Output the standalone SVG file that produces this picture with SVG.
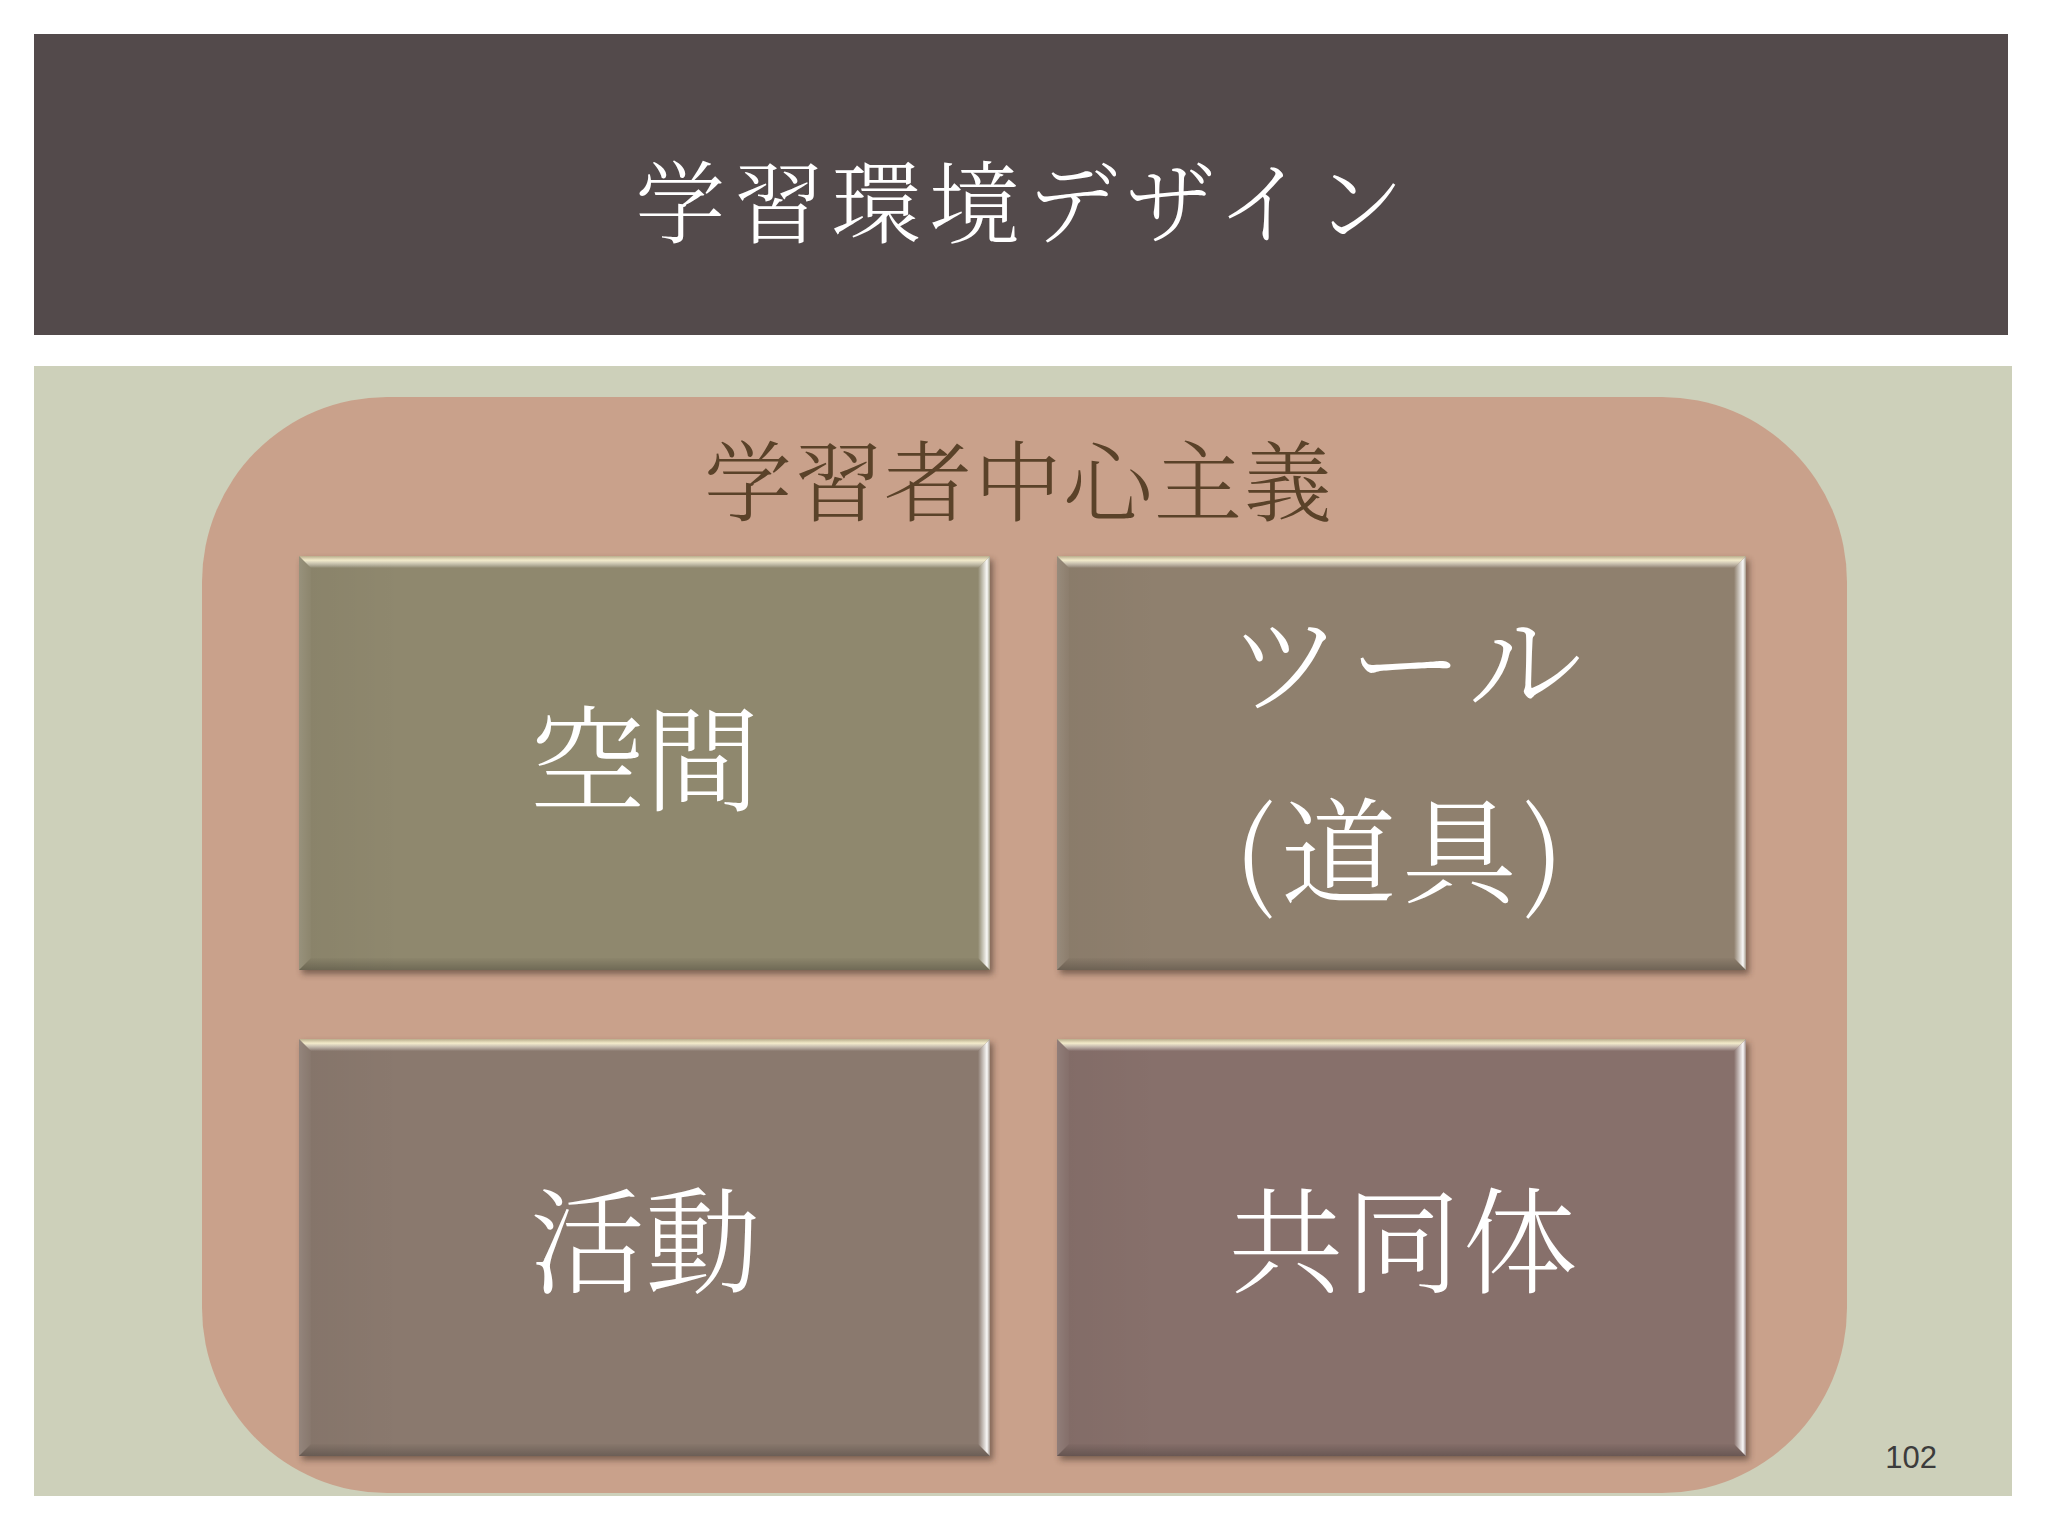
<svg xmlns="http://www.w3.org/2000/svg" width="2048" height="1536" viewBox="0 0 2048 1536">
<defs>
<style>
.title{font-family:"Noto Serif CJK JP","Noto Sans CJK JP",serif;font-weight:300;fill:#ffffff;text-anchor:middle}
.sub{font-family:"Noto Serif CJK JP","Noto Sans CJK JP",serif;font-weight:300;fill:#5a4229;text-anchor:middle}
.lbl{font-family:"Noto Serif CJK JP","Noto Sans CJK JP",serif;font-weight:300;fill:#ffffff;text-anchor:middle;font-size:115px}
.pg{font-family:"Liberation Sans Narrow","Liberation Sans",sans-serif;fill:#3c3c3c;font-size:31px;text-anchor:end}
</style>
<filter id="sh" x="-5%" y="-5%" width="110%" height="115%">
<feGaussianBlur stdDeviation="3"/>
</filter>
<linearGradient id="topB" x1="0" y1="0" x2="0" y2="1">
<stop offset="0" stop-color="#b9ad8c"/>
<stop offset="0.35" stop-color="#f3ebca"/>
<stop offset="1" stop-color="#ffffff" stop-opacity="0"/>
</linearGradient>
<linearGradient id="rightB" x1="1" y1="0" x2="0" y2="0">
<stop offset="0" stop-color="#ffffff" stop-opacity="0.2"/>
<stop offset="0.25" stop-color="#ffffff" stop-opacity="0.95"/>
<stop offset="1" stop-color="#ffffff" stop-opacity="0"/>
</linearGradient>
<linearGradient id="leftB" x1="0" y1="0" x2="1" y2="0">
<stop offset="0" stop-color="#ffffff" stop-opacity="0.12"/>
<stop offset="1" stop-color="#ffffff" stop-opacity="0.02"/>
</linearGradient>
<linearGradient id="botB" x1="0" y1="0" x2="0" y2="1">
<stop offset="0" stop-color="#000000" stop-opacity="0.02"/>
<stop offset="1" stop-color="#000000" stop-opacity="0.22"/>
</linearGradient>
<linearGradient id="shade" x1="0" y1="0" x2="1" y2="0">
<stop offset="0" stop-color="#000000" stop-opacity="0.04"/>
<stop offset="0.15" stop-color="#000000" stop-opacity="0"/>
</linearGradient>
</defs>

<rect x="0" y="0" width="2048" height="1536" fill="#ffffff"/>

<g id="header">
<rect x="34" y="34" width="1974" height="301" fill="#534a4b"/>
<text class="title" x="1024" y="236" font-size="90" letter-spacing="8">学習環境デザイン</text>
</g>

<g id="panel">
<rect x="34" y="366" width="1978" height="1130" fill="#cdd0ba"/>
</g>

<g id="learner-centered">
<rect x="202" y="397" width="1645" height="1096" rx="185" ry="185" fill="#c9a18b"/>
<text class="sub" x="1019" y="514" font-size="88" letter-spacing="2">学習者中心主義</text>
</g>

<g id="box-space">
<rect x="302" y="560" width="691" height="414" fill="#3a2a20" opacity="0.55" filter="url(#sh)"/>
<rect x="299" y="556" width="691" height="414" fill="#8f886e"/>
<rect x="299" y="556" width="691" height="414" fill="url(#shade)"/>
<polygon points="299,556 311,568 311,958 299,970" fill="url(#leftB)"/>
<polygon points="299,970 311,958 978,958 990,970" fill="url(#botB)"/>
<polygon points="990,556 990,970 978,958 978,568" fill="url(#rightB)"/>
<polygon points="299,556 990,556 978,568 311,568" fill="url(#topB)"/>
<text class="lbl" x="645" y="802">空間</text>
</g>

<g id="box-tools">
<rect x="1060" y="560" width="689" height="414" fill="#3a2a20" opacity="0.55" filter="url(#sh)"/>
<rect x="1057" y="556" width="689" height="414" fill="#8f806e"/>
<rect x="1057" y="556" width="689" height="414" fill="url(#shade)"/>
<polygon points="1057,556 1069,568 1069,958 1057,970" fill="url(#leftB)"/>
<polygon points="1057,970 1069,958 1734,958 1746,970" fill="url(#botB)"/>
<polygon points="1746,556 1746,970 1734,958 1734,568" fill="url(#rightB)"/>
<polygon points="1057,556 1746,556 1734,568 1069,568" fill="url(#topB)"/>
<text class="lbl" x="1408" y="705" letter-spacing="6">ツール</text>
<text class="lbl" x="1402" y="894" letter-spacing="6">(道具)</text>
</g>

<g id="box-activity">
<rect x="302" y="1043" width="691" height="417" fill="#3a2a20" opacity="0.55" filter="url(#sh)"/>
<rect x="299" y="1039" width="691" height="417" fill="#8a796e"/>
<rect x="299" y="1039" width="691" height="417" fill="url(#shade)"/>
<polygon points="299,1039 311,1051 311,1444 299,1456" fill="url(#leftB)"/>
<polygon points="299,1456 311,1444 978,1444 990,1456" fill="url(#botB)"/>
<polygon points="990,1039 990,1456 978,1444 978,1051" fill="url(#rightB)"/>
<polygon points="299,1039 990,1039 978,1051 311,1051" fill="url(#topB)"/>
<text class="lbl" x="645" y="1284">活動</text>
</g>

<g id="box-community">
<rect x="1060" y="1043" width="689" height="417" fill="#3a2a20" opacity="0.55" filter="url(#sh)"/>
<rect x="1057" y="1039" width="689" height="417" fill="#87706b"/>
<rect x="1057" y="1039" width="689" height="417" fill="url(#shade)"/>
<polygon points="1057,1039 1069,1051 1069,1444 1057,1456" fill="url(#leftB)"/>
<polygon points="1057,1456 1069,1444 1734,1444 1746,1456" fill="url(#botB)"/>
<polygon points="1746,1039 1746,1456 1734,1444 1734,1051" fill="url(#rightB)"/>
<polygon points="1057,1039 1746,1039 1734,1051 1069,1051" fill="url(#topB)"/>
<text class="lbl" x="1404" y="1284" letter-spacing="2">共同体</text>
</g>

<g id="connectors"></g>

<g id="page-number">
<text class="pg" x="1937" y="1468">102</text>
</g>
</svg>
